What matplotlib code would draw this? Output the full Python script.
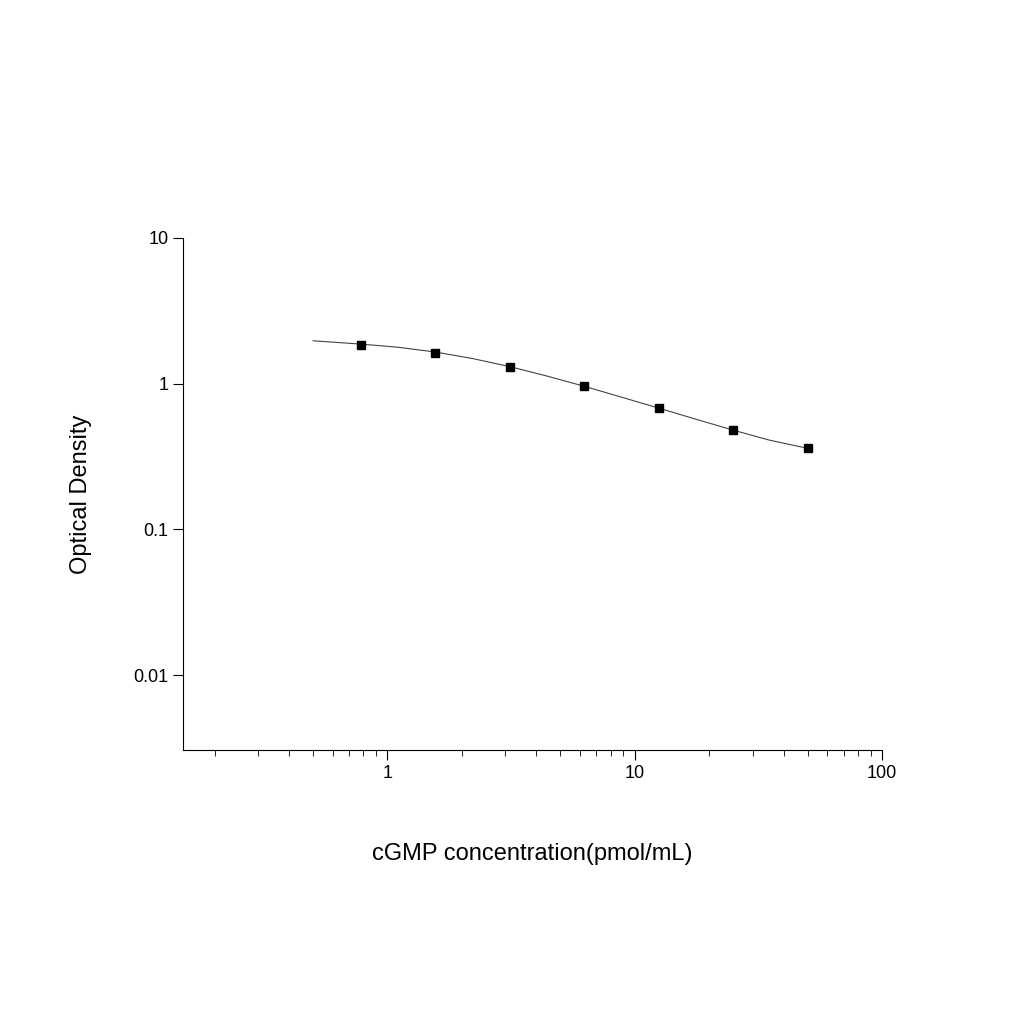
import matplotlib
matplotlib.use("Agg")
import matplotlib.pyplot as plt
from matplotlib.ticker import FixedLocator, NullLocator, LogLocator

plt.rcParams['font.family'] = ['Liberation Sans', 'DejaVu Sans']

# standard points
conc = [0.78, 1.56, 3.125, 6.25, 12.5, 25, 50]
od = [1.85, 1.63, 1.31, 0.97, 0.68, 0.48, 0.36]

# fitted curve
curve_x = [0.5, 0.78, 1.1, 1.56, 2.2, 3.125, 4.4, 6.25, 8.8, 12.5, 17.7, 25, 35, 50]
curve_y = [1.97, 1.87, 1.78, 1.65, 1.49, 1.31, 1.13, 0.96, 0.81, 0.68, 0.57, 0.48, 0.41, 0.36]

fig = plt.figure(figsize=(10.24, 10.24), dpi=100)
ax = fig.add_axes([183/1024, 1 - 750/1024, (882-183)/1024, (750-238)/1024])

ax.plot(curve_x, curve_y, color="#444444", linewidth=0.8)
ax.plot(conc, od, "s", color="black", markersize=6)

ax.set_xscale("log")
ax.set_yscale("log")
ax.set_xlim(0.149, 100)
ax.set_ylim(0.00306, 10)

ax.spines["top"].set_visible(False)
ax.spines["right"].set_visible(False)

ax.xaxis.set_major_locator(FixedLocator([1, 10, 100]))
ax.xaxis.set_major_formatter(plt.FixedFormatter(["1", "10", "100"]))
ax.xaxis.set_minor_locator(LogLocator(base=10, subs=range(2, 10)))
ax.xaxis.set_minor_formatter(plt.NullFormatter())
ax.yaxis.set_major_locator(FixedLocator([0.01, 0.1, 1, 10]))
ax.yaxis.set_major_formatter(plt.FixedFormatter(["0.01", "0.1", "1", "10"]))
ax.yaxis.set_minor_locator(NullLocator())

ax.tick_params(which="major", direction="out", length=7, labelsize=13)
ax.tick_params(which="minor", direction="out", length=4)

ax.set_xlabel("cGMP concentration(pmol/mL)", fontsize=17, labelpad=44)
ax.set_ylabel("Optical Density", fontsize=17, labelpad=30)

fig.savefig("out.png", dpi=100)
